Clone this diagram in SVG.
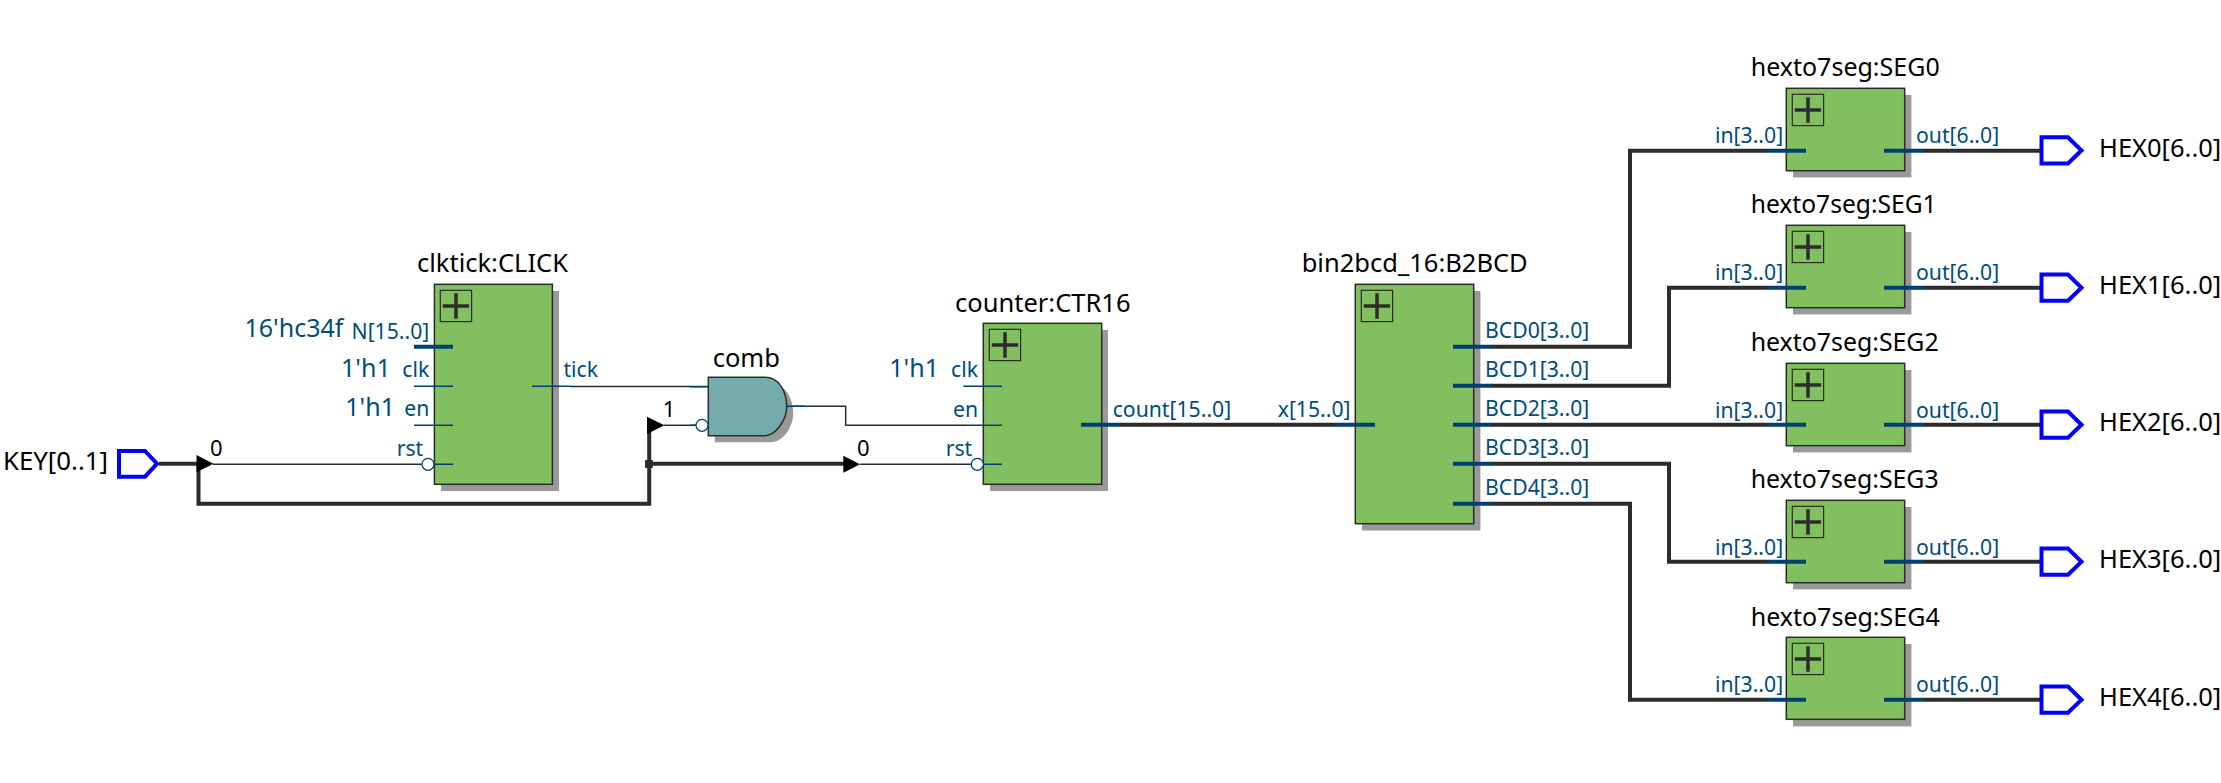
<svg xmlns="http://www.w3.org/2000/svg" width="2221" height="783" viewBox="0 0 2221 783">
<defs>
<style>
text{font-family:"Noto Sans","Open Sans","DejaVu Sans",sans-serif}
.t{font-size:25.5px;fill:#000}
.p{font-size:21.2px;fill:#004c7a}
.v{font-size:25px;fill:#004c7a}
.n{font-size:22px;fill:#000}
.box{fill:#82bf5f;stroke:#2c2c2c;stroke-width:1.5}
.sh{fill:#999}
.pb{fill:none;stroke:#2c2c2c;stroke-width:1.2}
.pl{fill:none;stroke:#2c2c2c;stroke-width:3.5}
.w{fill:none;stroke:#2c2c2c;stroke-width:4;stroke-linejoin:miter}
.th{fill:none;stroke:#2c2c2c;stroke-width:1.5}
.bs{stroke:#004070;stroke-width:4;fill:none}
.ts{stroke:#004070;stroke-width:1.5;fill:none}
.bub{fill:#fff;stroke:#004070;stroke-width:1.2}
.pin{fill:#fff;stroke:#0000ff;stroke-width:4}
.tri{fill:#000}
</style>
<g id="plus"><rect class="pb" width="31.3" height="31.3"/><path class="pl" d="M2.5 15.7H28.8M15.7 3V28.5"/></g>
</defs>
<g id="connectors">
<path class="w" d="M159 463.7H197"/>
<path class="w" d="M198.5 464V503.7H649.2V428"/>
<path class="w" d="M649.2 463.7H845"/>
<path class="th" d="M213 464.3H422"/>
<path class="th" d="M664 425.3H696"/>
<path class="th" d="M860 464.3H971"/>
<path class="th" d="M570 386.5H708"/>
<path class="th" d="M786 406.3H845.7V425.3H964"/>
<path class="w" d="M1120 424.7H1335"/>
<path class="w" d="M1491 346.7H1630V150.7H1767"/>
<path class="w" d="M1491 385.7H1669V287.7H1767"/>
<path class="w" d="M1491 424.7H1767"/>
<path class="w" d="M1491 463.7H1669V561.7H1767"/>
<path class="w" d="M1491 503.7H1630V699.7H1767"/>
<path class="w" d="M1924 150.7H2040M1924 287.7H2040M1924 424.7H2040M1924 561.7H2040M1924 699.7H2040"/>
<rect x="645" y="460" width="7.7" height="8" fill="#2c2c2c"/>
<path class="tri" d="M196.5 455V472.3L213.5 463.7Z"/>
<path class="tri" d="M647 416.7V434L664.4 425.3Z"/>
<path class="tri" d="M843.3 455.7V472.7L860 464.2Z"/>
</g>
<g id="KEY"><path class="pin" d="M119 451H145L157 463.7L145 476.7H119Z"/><text class="t" x="3" y="470" textLength="105" lengthAdjust="spacingAndGlyphs">KEY[0..1]</text><text class="n" x="210" y="455.7">0</text></g>
<g id="CLICK">
<rect class="sh" x="441" y="291" width="118" height="200"/>
<rect class="box" x="434.4" y="284.3" width="118" height="200"/>
<use href="#plus" x="440.3" y="290.3"/>
<text class="t" x="417" y="272">clktick:CLICK</text>
<text class="v" x="343.4" y="337" text-anchor="end">16'hc34f</text>
<text class="p" x="429.3" y="339" text-anchor="end">N[15..0]</text>
<text class="v" x="390.7" y="376.7" text-anchor="end">1'h1</text>
<text class="p" x="429.3" y="377" text-anchor="end">clk</text>
<text class="v" x="395" y="416" text-anchor="end">1'h1</text>
<text class="p" x="429.3" y="416" text-anchor="end">en</text>
<text class="p" x="396.7" y="456">rst</text>
<text class="p" x="563.4" y="377">tick</text>
<path class="bs" d="M414 346.7H453"/>
<path class="ts" d="M414 386.3H453M414 425.3H453M422 464.3H453M532 386.3H570.7"/>
<circle class="bub" cx="428" cy="464.3" r="6"/>
</g>
<g id="comb">
<path d="M714.8 383.8H771.5C786 383.8 793.2 400 793.2 413.5C793.2 428 782 442.2 771.5 442.2H714.8Z" fill="#999"/>
<path d="M708.3 377.3H765C780 377.3 786.7 393 786.7 406.5C786.7 421 775 435.7 765 435.7H708.3Z" fill="#74abad" stroke="#2c2c2c" stroke-width="1.5"/>
<text class="t" x="712.7" y="367">comb</text>
<text class="n" x="662.7" y="416.7">1</text>
<path class="ts" d="M690 386.7H708M786.7 406.3H805M690 425.3H696"/>
<circle class="bub" cx="702" cy="425.3" r="6"/>
</g>
<g id="CTR16">
<rect class="sh" x="990" y="330" width="118" height="161"/>
<rect class="box" x="983.3" y="323.3" width="118.4" height="161"/>
<use href="#plus" x="989.3" y="329.3"/>
<text class="t" x="955" y="311.7">counter:CTR16</text>
<text class="v" x="939" y="376.7" text-anchor="end">1'h1</text>
<text class="p" x="978" y="377" text-anchor="end">clk</text>
<text class="p" x="978" y="416.7" text-anchor="end">en</text>
<text class="p" x="945.7" y="455.7">rst</text>
<text class="n" x="857" y="455.7">0</text>
<text class="p" x="1112.7" y="416.7">count[15..0]</text>
<path class="ts" d="M963.3 386.3H1002M963.3 425.3H1002M971 464.3H1002"/>
<path class="bs" d="M1081 424.7H1120"/>
<circle class="bub" cx="977.3" cy="464.3" r="6"/>
</g>
<g id="B2BCD">
<rect class="sh" x="1362" y="291" width="118.4" height="239.5"/>
<rect class="box" x="1355.3" y="284.3" width="118.4" height="239.4"/>
<use href="#plus" x="1361.3" y="290.3"/>
<text class="t" x="1301.7" y="272.3">bin2bcd_16:B2BCD</text>
<text class="p" x="1277.7" y="416.7">x[15..0]</text>
<text class="p" x="1485" y="338.3">BCD0[3..0]</text>
<text class="p" x="1485" y="377.3">BCD1[3..0]</text>
<text class="p" x="1485" y="416">BCD2[3..0]</text>
<text class="p" x="1485" y="455">BCD3[3..0]</text>
<text class="p" x="1485" y="495">BCD4[3..0]</text>
<path class="bs" d="M1335 424.7H1375M1453 346.7H1491.7M1453 385.7H1491.7M1453 424.7H1491.7M1453 463.7H1491.7M1453 503.7H1491.7"/>
</g>
<g id="SEG0">
<rect class="sh" x="1793" y="95" width="118.4" height="82.4"/>
<rect class="box" x="1786.3" y="88.3" width="118.4" height="82.4"/>
<use href="#plus" x="1792.3" y="94.3"/>
<text class="t" x="1750.7" y="76" textLength="189" lengthAdjust="spacingAndGlyphs">hexto7seg:SEG0</text>
<text class="p" x="1715" y="142.7">in[3..0]</text>
<text class="p" x="1916" y="142.7">out[6..0]</text>
<path class="bs" d="M1767 150.7H1806M1884 150.7H1924"/>
</g>
<g id="SEG1">
<rect class="sh" x="1793" y="232" width="118.4" height="82.4"/>
<rect class="box" x="1786.3" y="225.3" width="118.4" height="82.4"/>
<use href="#plus" x="1792.3" y="231.3"/>
<text class="t" x="1750.7" y="213.3" textLength="186" lengthAdjust="spacingAndGlyphs">hexto7seg:SEG1</text>
<text class="p" x="1715" y="280">in[3..0]</text>
<text class="p" x="1916" y="280">out[6..0]</text>
<path class="bs" d="M1767 287.7H1806M1884 287.7H1924"/>
</g>
<g id="SEG2">
<rect class="sh" x="1793" y="370" width="118.4" height="82.4"/>
<rect class="box" x="1786.3" y="363.3" width="118.4" height="82.4"/>
<use href="#plus" x="1792.3" y="369.3"/>
<text class="t" x="1750.7" y="351" textLength="188" lengthAdjust="spacingAndGlyphs">hexto7seg:SEG2</text>
<text class="p" x="1715" y="417.7">in[3..0]</text>
<text class="p" x="1916" y="417.7">out[6..0]</text>
<path class="bs" d="M1767 424.7H1806M1884 424.7H1924"/>
</g>
<g id="SEG3">
<rect class="sh" x="1793" y="507" width="118.4" height="82.4"/>
<rect class="box" x="1786.3" y="500.3" width="118.4" height="82.4"/>
<use href="#plus" x="1792.3" y="506.3"/>
<text class="t" x="1750.7" y="488.3" textLength="188" lengthAdjust="spacingAndGlyphs">hexto7seg:SEG3</text>
<text class="p" x="1715" y="555">in[3..0]</text>
<text class="p" x="1916" y="555">out[6..0]</text>
<path class="bs" d="M1767 561.7H1806M1884 561.7H1924"/>
</g>
<g id="SEG4">
<rect class="sh" x="1793" y="644" width="118.4" height="82.4"/>
<rect class="box" x="1786.3" y="637.3" width="118.4" height="82"/>
<use href="#plus" x="1792.3" y="643.3"/>
<text class="t" x="1750.7" y="625.7" textLength="189" lengthAdjust="spacingAndGlyphs">hexto7seg:SEG4</text>
<text class="p" x="1715" y="692.3">in[3..0]</text>
<text class="p" x="1916" y="692.3">out[6..0]</text>
<path class="bs" d="M1767 699.7H1806M1884 699.7H1924"/>
</g>
<g id="HEX0"><path class="pin" d="M2041.5 137.3H2068L2081.5 150.5L2068 163.5H2041.5Z"/><text class="t" x="2099" y="156.7">HEX0[6..0]</text></g>
<g id="HEX1"><path class="pin" d="M2041.5 274.5H2068L2081.5 287.7L2068 300.7H2041.5Z"/><text class="t" x="2099" y="293.7">HEX1[6..0]</text></g>
<g id="HEX2"><path class="pin" d="M2041.5 411.5H2068L2081.5 424.7L2068 437.7H2041.5Z"/><text class="t" x="2099" y="430.7">HEX2[6..0]</text></g>
<g id="HEX3"><path class="pin" d="M2041.5 548.5H2068L2081.5 561.7L2068 574.7H2041.5Z"/><text class="t" x="2099" y="568.3">HEX3[6..0]</text></g>
<g id="HEX4"><path class="pin" d="M2041.5 686.5H2068L2081.5 699.7L2068 712.7H2041.5Z"/><text class="t" x="2099" y="705.7">HEX4[6..0]</text></g>
</svg>
